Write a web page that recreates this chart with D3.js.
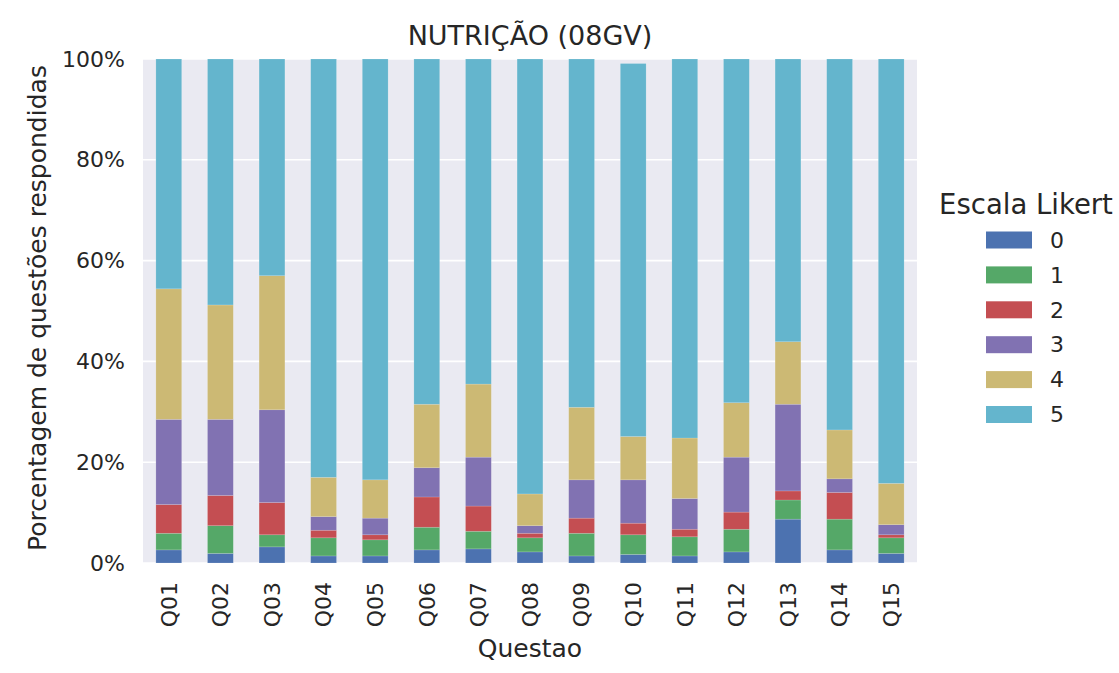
<!DOCTYPE html>
<html>
<head>
<meta charset="utf-8">
<script src="https://cdn.jsdelivr.net/npm/d3@7"></script>
<style>
  body { margin: 0; background: #fff; }
  text { font-family: "DejaVu Sans", sans-serif; fill: #262626; }
</style>
</head>
<body>
<svg id="chart" width="1119" height="673"></svg>
<script>
const categories = ["Q01","Q02","Q03","Q04","Q05","Q06","Q07","Q08","Q09","Q10","Q11","Q12","Q13","Q14","Q15"];
const seriesNames = ["0","1","2","3","4","5"];
// percentages per Likert level, per question
const s0 = [2.6, 1.9, 3.2, 1.4, 1.4, 2.6, 2.8, 2.2, 1.4, 1.7, 1.4, 2.2, 8.7, 2.6, 1.9];
const s1 = [3.3, 5.5, 2.4, 3.6, 3.2, 4.5, 3.5, 2.8, 4.5, 3.9, 3.8, 4.5, 3.8, 6.1, 3.1];
const s2 = [5.7, 6.0, 6.4, 1.5, 1.0, 6.0, 5.0, 0.9, 3.0, 2.3, 1.5, 3.4, 1.8, 5.3, 0.6];
const s3 = [16.9, 15.1, 18.4, 2.7, 3.3, 5.8, 9.7, 1.5, 7.6, 8.6, 6.1, 10.9, 17.2, 2.7, 2.0];
const s4 = [25.9, 22.7, 26.6, 7.8, 7.6, 12.6, 14.5, 6.3, 14.4, 8.6, 12.0, 10.8, 12.4, 9.7, 8.2];
const s5 = [45.6, 48.8, 43.0, 83.0, 83.5, 68.5, 64.5, 86.3, 69.1, 74.0, 75.2, 68.2, 56.1, 73.6, 84.2];
const yTicks = [0, 20, 40, 60, 80, 100];
const colors = ["#4C72B0", "#55A868", "#C44E52", "#8172B2", "#CCB974", "#64B5CD"];

const series = [s0, s1, s2, s3, s4, s5];
const rows = categories.map((c, i) => {
  const r = { cat: c };
  seriesNames.forEach((k, j) => r[k] = series[j][i]);
  return r;
});

const svg = d3.select("#chart");
const m = { left: 143, right: 917, top: 59, bottom: 563 };

const x = d3.scaleBand().domain(categories).range([m.left, m.right]).paddingInner(0.5).paddingOuter(0.25);
const y = d3.scaleLinear().domain([0, 100]).range([m.bottom, m.top]);

svg.append("rect").attr("x", m.left).attr("y", m.top)
  .attr("width", m.right - m.left).attr("height", m.bottom - m.top).attr("fill", "#EAEAF2");

svg.append("g").selectAll("line").data(yTicks).join("line")
  .attr("x1", m.left).attr("x2", m.right)
  .attr("y1", d => y(d)).attr("y2", d => y(d))
  .attr("stroke", "#fff").attr("stroke-width", 1.6);

const stack = d3.stack().keys(seriesNames)(rows);
svg.append("g").selectAll("g").data(stack).join("g")
  .attr("fill", (d, i) => colors[i])
  .selectAll("rect").data(d => d).join("rect")
  .attr("x", d => x(d.data.cat))
  .attr("width", x.bandwidth())
  .attr("y", d => y(d[1]))
  .attr("height", d => y(d[0]) - y(d[1]))
  .attr("stroke", "rgba(255,255,255,0.25)").attr("stroke-width", 0.6);

// y axis
const yAxis = d3.axisLeft(y).tickValues(yTicks).tickFormat(d => d + "%").tickSize(0).tickPadding(18);
const gy = svg.append("g").attr("transform", `translate(${m.left},0)`).call(yAxis);
gy.select(".domain").remove();
gy.selectAll("text").attr("font-size", 22).style("font-family", "DejaVu Sans").attr("fill", "#262626");

// x axis
const xAxis = d3.axisBottom(x).tickSize(0).tickPadding(0);
const gx = svg.append("g").attr("transform", `translate(0,${m.bottom})`).call(xAxis);
gx.select(".domain").remove();
gx.selectAll("text")
  .attr("font-size", 22).style("font-family", "DejaVu Sans").attr("fill", "#262626")
  .attr("transform", "rotate(-90)")
  .attr("text-anchor", "end")
  .attr("x", -19).attr("y", 0).attr("dy", "0.35em");

// title
svg.append("text").attr("x", 530).attr("y", 45).attr("text-anchor", "middle")
  .attr("font-size", 27).text("NUTRIÇÃO (08GV)");

// axis labels
svg.append("text").attr("x", 530).attr("y", 657).attr("text-anchor", "middle")
  .attr("font-size", 25).text("Questao");
svg.append("text").attr("transform", `translate(46,${(m.top + m.bottom) / 2 - 3}) rotate(-90)`)
  .attr("text-anchor", "middle").attr("font-size", 25).text("Porcentagem de questões respondidas");

// legend
const lg = svg.append("g");
lg.append("text").attr("x", 1026).attr("y", 214).attr("text-anchor", "middle")
  .attr("font-size", 27.5).text("Escala Likert");
const items = lg.selectAll("g.item").data(seriesNames).join("g").attr("class", "item")
  .attr("transform", (d, i) => `translate(0,${240 + i * 34.9})`);
items.append("rect").attr("x", 986).attr("y", -8.5).attr("width", 46).attr("height", 17)
  .attr("fill", (d, i) => colors[i]);
items.append("text").attr("x", 1050).attr("y", 0).attr("dy", "0.35em")
  .attr("font-size", 22).text(d => d);
</script>
</body>
</html>
